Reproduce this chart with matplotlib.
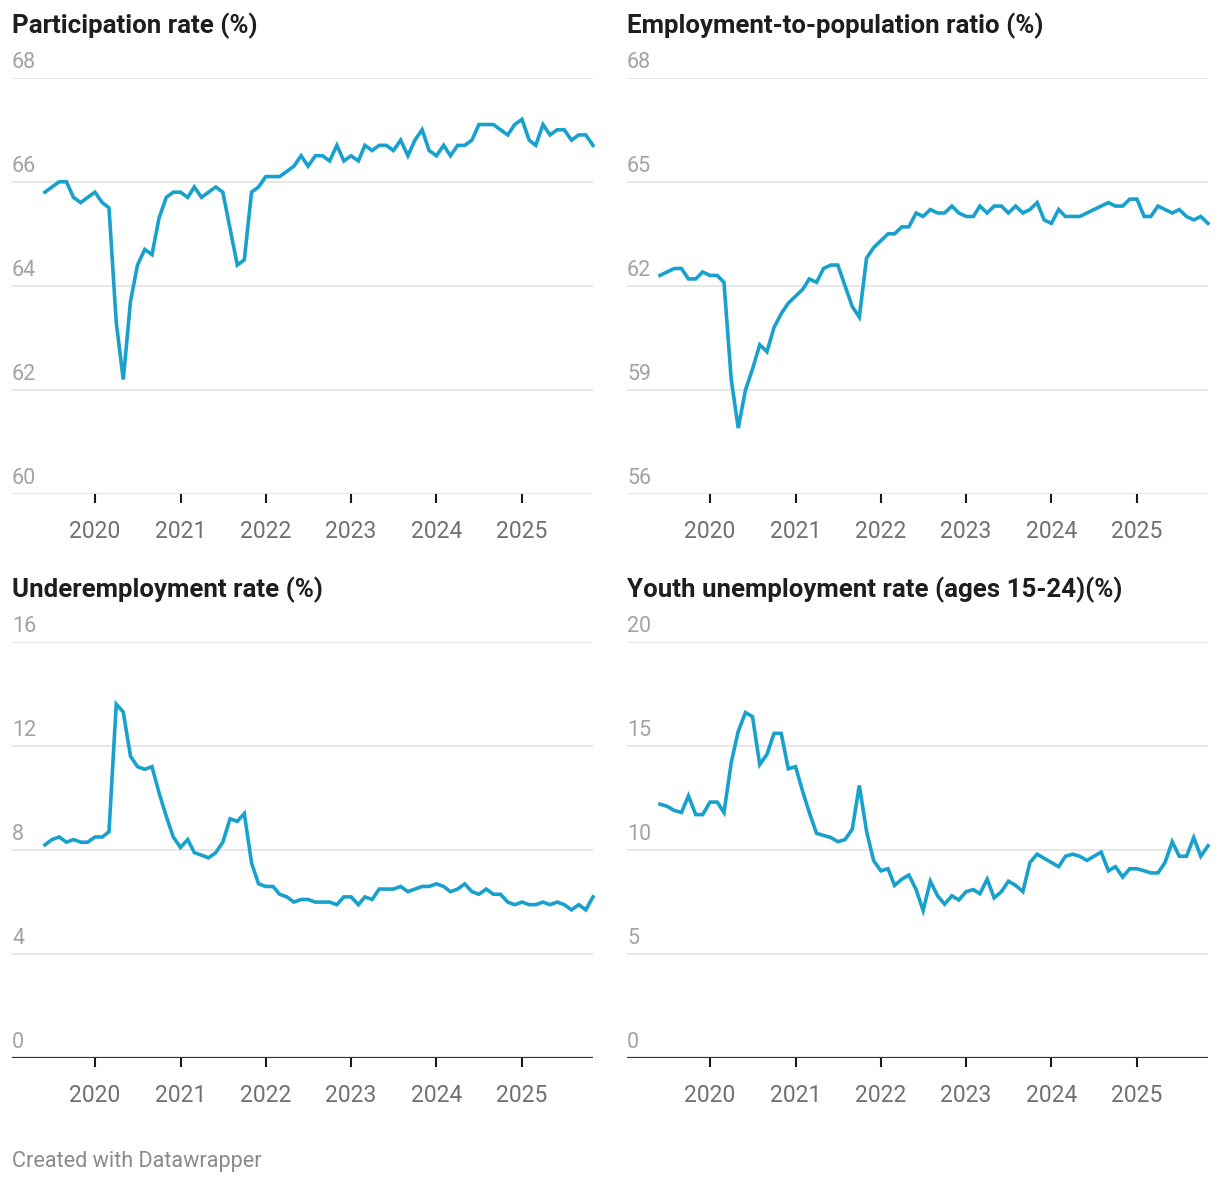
import matplotlib
matplotlib.use("Agg")
import matplotlib.pyplot as plt
import pandas as pd

plt.rcParams['font.family'] = ['Roboto', 'DejaVu Sans']

# monthly data, Jun 2019 - Nov 2025
months = pd.date_range('2019-06-01', periods=78, freq='MS')

participation = [
    65.8, 65.9, 66.0, 66.0, 65.7, 65.6, 65.7, 65.8, 65.6, 65.5,
    63.3, 62.2, 63.7, 64.4, 64.7, 64.6, 65.3, 65.7, 65.8, 65.8,
    65.7, 65.9, 65.7, 65.8, 65.9, 65.8, 65.1, 64.4, 64.5, 65.8,
    65.9, 66.1, 66.1, 66.1, 66.2, 66.3, 66.5, 66.3, 66.5, 66.5,
    66.4, 66.7, 66.4, 66.5, 66.4, 66.7, 66.6, 66.7, 66.7, 66.6,
    66.8, 66.5, 66.8, 67.0, 66.6, 66.5, 66.7, 66.5, 66.7, 66.7,
    66.8, 67.1, 67.1, 67.1, 67.0, 66.9, 67.1, 67.2, 66.8, 66.7,
    67.1, 66.9, 67.0, 67.0, 66.8, 66.9, 66.9, 66.7,
]

emp_pop = [
    62.3, 62.4, 62.5, 62.5, 62.2, 62.2, 62.4, 62.3, 62.3, 62.1,
    59.3, 57.9, 59.0, 59.6, 60.3, 60.1, 60.8, 61.2, 61.5, 61.7,
    61.9, 62.2, 62.1, 62.5, 62.6, 62.6, 62.0, 61.4, 61.1, 62.8,
    63.1, 63.3, 63.5, 63.5, 63.7, 63.7, 64.1, 64.0, 64.2, 64.1,
    64.1, 64.3, 64.1, 64.0, 64.0, 64.3, 64.1, 64.3, 64.3, 64.1,
    64.3, 64.1, 64.2, 64.4, 63.9, 63.8, 64.2, 64.0, 64.0, 64.0,
    64.1, 64.2, 64.3, 64.4, 64.3, 64.3, 64.5, 64.5, 64.0, 64.0,
    64.3, 64.2, 64.1, 64.2, 64.0, 63.9, 64.0, 63.8,
]

underemployment = [
    8.2, 8.4, 8.5, 8.3, 8.4, 8.3, 8.3, 8.5, 8.5, 8.7,
    13.6, 13.3, 11.6, 11.2, 11.1, 11.2, 10.2, 9.3, 8.5, 8.1,
    8.4, 7.9, 7.8, 7.7, 7.9, 8.3, 9.2, 9.1, 9.4, 7.5,
    6.7, 6.6, 6.6, 6.3, 6.2, 6.0, 6.1, 6.1, 6.0, 6.0,
    6.0, 5.9, 6.2, 6.2, 5.9, 6.2, 6.1, 6.5, 6.5, 6.5,
    6.6, 6.4, 6.5, 6.6, 6.6, 6.7, 6.6, 6.4, 6.5, 6.7,
    6.4, 6.3, 6.5, 6.3, 6.3, 6.0, 5.9, 6.0, 5.9, 5.9,
    6.0, 5.9, 6.0, 5.9, 5.7, 5.9, 5.7, 6.2,
]

youth_unemployment = [
    12.2, 12.1, 11.9, 11.8, 12.6, 11.7, 11.7, 12.3, 12.3, 11.8,
    14.2, 15.7, 16.6, 16.4, 14.1, 14.6, 15.6, 15.6, 13.9, 14.0,
    12.8, 11.8, 10.8, 10.7, 10.6, 10.4, 10.5, 11.0, 13.1, 10.9,
    9.5, 9.0, 9.1, 8.3, 8.6, 8.8, 8.1, 7.1, 8.5, 7.8,
    7.4, 7.8, 7.6, 8.0, 8.1, 7.9, 8.6, 7.7, 8.0, 8.5,
    8.3, 8.0, 9.4, 9.8, 9.6, 9.4, 9.2, 9.7, 9.8, 9.7,
    9.5, 9.7, 9.9, 9.0, 9.2, 8.7, 9.1, 9.1, 9.0, 8.9,
    8.9, 9.4, 10.4, 9.7, 9.7, 10.6, 9.7, 10.2,
]

titles = [
    "Participation rate (%)",
    "Employment-to-population ratio (%)",
    "Underemployment rate (%)",
    "Youth unemployment rate (ages 15-24)(%)",
]
series = [participation, emp_pop, underemployment, youth_unemployment]
yticks = [
    [60, 62, 64, 66, 68],
    [56, 59, 62, 65, 68],
    [0, 4, 8, 12, 16],
    [0, 5, 10, 15, 20],
]
years = [2020, 2021, 2022, 2023, 2024, 2025]

W, H = 1220, 1184
BLUE = '#18a1cd'

fig = plt.figure(figsize=(W / 100, H / 100), dpi=100)

# pixel boxes of the plot areas: left, top, right, bottom
boxes = [
    (12, 77.7, 593, 494),
    (627, 77.7, 1208, 494),
    (12, 641.7, 593, 1058.3),
    (627, 641.7, 1208, 1058.3),
]

xmin = pd.Timestamp('2019-01-11')
xmax = pd.Timestamp('2025-11-01')

for box, title, values, ticks in zip(boxes, titles, series, yticks):
    l, t, r, b = box
    ax = fig.add_axes([l / W, 1 - b / H, (r - l) / W, (b - t) / H])
    ax.set_xlim(xmin, xmax)
    ax.set_ylim(ticks[0], ticks[-1])

    for v in ticks:
        zero = (v == 0)
        ax.axhline(v, color='#333333' if zero else '#e3e3e3',
                   lw=1.6 if zero else 1.2, zorder=1 if not zero else 3)
        ax.annotate(str(v), xy=(0, v), xycoords=('axes fraction', 'data'),
                    xytext=(0, 7.3), textcoords='offset points',
                    ha='left', va='baseline', fontsize=15.5, color='#a3a3a3')

    ax.plot(months, values, color=BLUE, lw=2.6, solid_joinstyle='miter',
            zorder=2, clip_on=False)

    ax.set_yticks([])
    tick_dates = [pd.Timestamp(f'{y}-01-01') for y in years]
    ax.set_xticks(tick_dates)
    ax.set_xticklabels([])
    ax.tick_params(axis='x', length=6.5, width=1.5, color='#1a1a1a', direction='out')
    for d, y in zip(tick_dates, years):
        ax.annotate(str(y), xy=(d, 0), xycoords=('data', 'axes fraction'),
                    xytext=(0, -31.5), textcoords='offset points',
                    ha='center', va='baseline', fontsize=16.5, color='#707070')

    for s in ax.spines.values():
        s.set_visible(False)
    ax.patch.set_alpha(0)

    fig.text(l / W, 1 - (t - 44.4) / H, title, ha='left', va='baseline',
             fontsize=18.6, fontweight='bold', color='#1e1e1e')

fig.text(12 / W, 1 - 1167.5 / H, "Created with Datawrapper", ha='left',
         va='baseline', fontsize=15.6, color='#8a8a8a')

fig.savefig('out.png', dpi=100, facecolor='white')
